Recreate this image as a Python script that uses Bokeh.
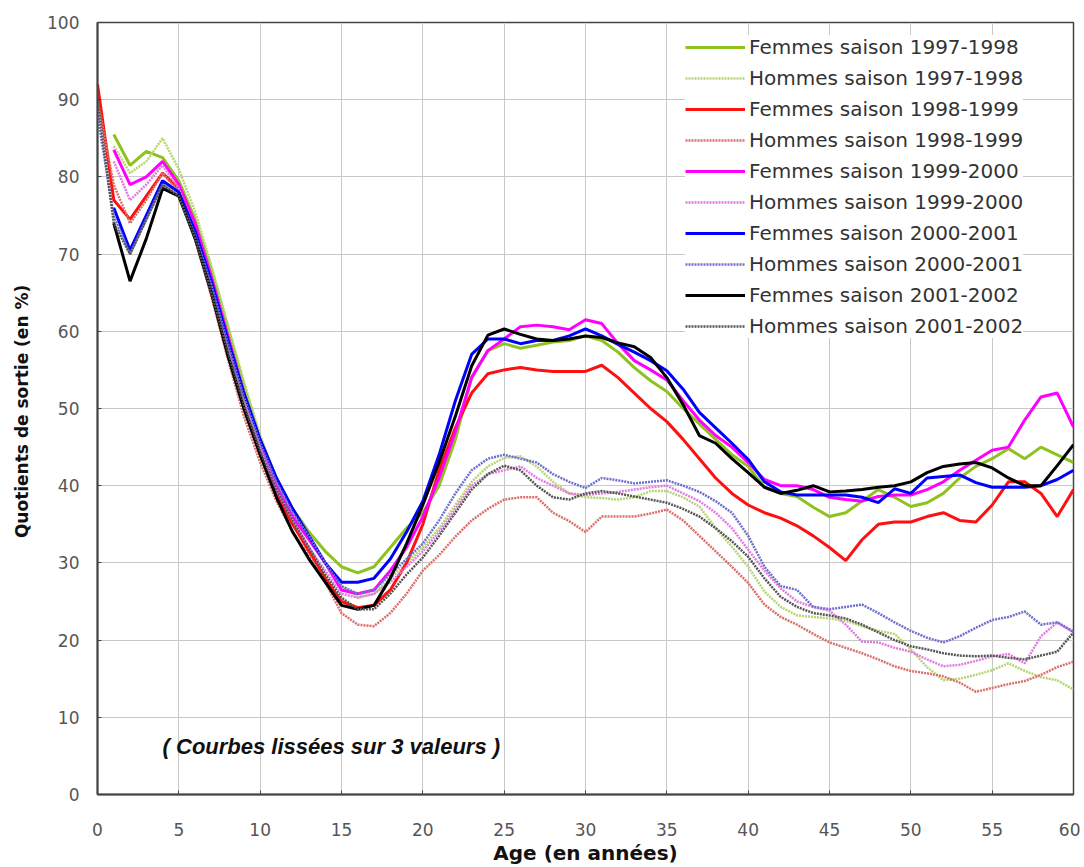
import math
from bokeh.plotting import figure
from bokeh.models import Range1d, FixedTicker, Legend, LegendItem, Label
from bokeh.embed import file_html
from bokeh.resources import INLINE

nan = float("nan")
ages = list(range(0, 61))

femmes_9798 = [nan, 85.5, 81.5, 83.3, 82.5, 79.5, 74.5, 68, 60.5, 53, 46, 41, 37, 34, 31.5, 29.5, 28.7, 29.5, 32, 34.5,
               36.5, 40, 46, 54, 57.5, 58.4, 57.8, 58.2, 58.6, 58.8, 59.4, 58.8, 57.3, 55.3, 53.6, 52.2, 50, 48, 46, 44,
               42.5, 39.8, 39, 38.6, 37.2, 36, 36.5, 38, 39.5, 38.5, 37.3, 37.8, 39, 41, 42.5, 43.5, 44.8, 43.5, 45, 44, 43]
hommes_9798 = [nan, 84, 80.5, 82, 85, 81, 75.5, 68.5, 61, 53.5, 46.5, 41, 37, 33.5, 30, 27, 25.5, 26, 28, 30,
               32, 34.5, 37.5, 40.5, 42.5, 43.6, 43.8, 42.5, 40.5, 39, 38.5, 38.4, 38.2, 38.5, 39.3, 39.3, 38.5, 37.3, 34.5, 32.1,
               29.5, 26.3, 24.3, 23.2, 23, 22.8, 22.5, 21.8, 21.2, 20.8, 18.8, 16.5, 14.8, 15, 15.5, 16.1, 17, 16, 15.2, 14.8, 13.6]
femmes_9899 = [92, 77, 74.5, 77.5, 80.5, 78.5, 72.5, 65, 57, 50, 44, 39, 35, 31.5, 28, 25, 24.2, 24.5, 26.5, 30,
               35, 42, 47.5, 52, 54.5, 55, 55.3, 55, 54.8, 54.8, 54.8, 55.6, 54, 52, 50, 48.3, 46, 43.5, 41, 39,
               37.5, 36.5, 35.8, 34.8, 33.5, 32, 30.3, 33, 35, 35.3, 35.3, 36, 36.5, 35.5, 35.3, 37.5, 40.5, 40.5, 39, 36, 39.5]
hommes_9899 = [90, 79, 74, 77, 80.5, 78, 72, 64.5, 56.5, 49, 43, 38, 34, 31, 27.5, 23.5, 22, 21.8, 23.5, 26,
               29, 31, 33.4, 35.5, 37, 38.2, 38.5, 38.5, 36.5, 35.4, 34, 36, 36, 36, 36.4, 36.9, 35.5, 33.5, 31.5, 29.5,
               27.4, 24.6, 23, 22, 20.8, 19.7, 19, 18.3, 17.5, 16.6, 16, 15.7, 15.3, 14.5, 13.3, 13.8, 14.3, 14.7, 15.5, 16.5, 17.2]
femmes_9900 = [nan, 83.5, 79, 80, 82, 79, 74, 67, 59.5, 52, 45.5, 40, 36, 33, 30, 26.5, 26, 26.5, 29, 32,
               36, 41, 47, 54, 57.5, 59, 60.6, 60.8, 60.6, 60.2, 61.5, 61, 58.4, 56.2, 55, 53.7, 51, 48.5, 46.5, 45,
               43, 40.8, 40, 40, 39.5, 38.5, 38.2, 38, 38.6, 38.8, 38.8, 39.5, 40.5, 42, 43.3, 44.6, 45, 48.5, 51.5, 52, 47.6]
hommes_9900 = [nan, 82, 77, 79, 81.5, 78.5, 73, 66, 58.5, 51, 45, 39.5, 35.5, 32, 29, 26, 25.5, 26, 27.5, 29.5,
               31.5, 34, 37, 40, 41.5, 42, 42.5, 41, 40, 39, 38.8, 39, 39.2, 39.5, 39.8, 40, 39, 38, 36.5, 34.5,
               31.7, 29, 26.7, 25, 24.3, 23.8, 22, 19.8, 19.7, 19, 18.5, 17.5, 16.6, 16.8, 17.3, 17.9, 18.2, 17, 20.5, 22.3, 21]
femmes_0001 = [nan, 76, 70.5, 75, 79.5, 78, 73, 66.5, 59, 52, 46, 41, 37, 33.5, 30, 27.5, 27.5, 28, 30.5, 34,
               38, 44, 51, 57, 59, 59, 58.4, 58.8, 58.8, 59.4, 60.3, 59.4, 58.3, 57.3, 56.2, 54.9, 52.5, 49.5, 47.5, 45.5,
               43.4, 40.5, 39.2, 38.8, 38.8, 38.8, 38.8, 38.5, 37.8, 39.6, 39, 41, 41.2, 41.4, 40.4, 39.8, 39.8, 39.8, 40, 40.8, 42]
hommes_0001 = [88, 75, 70, 74.5, 79, 77.5, 72.5, 66, 58.5, 51.5, 45.5, 40.5, 36.5, 33.5, 30, 27, 26, 26.5, 28.5, 30.5,
               32.5, 35.5, 39, 42, 43.5, 44, 43.5, 43, 41.5, 40.5, 39.7, 41, 40.7, 40.3, 40.5, 40.7, 40, 39.2, 38, 36.5,
               33.5, 29.5, 27, 26.5, 24.3, 24, 24.3, 24.6, 23.5, 22.3, 21.2, 20.3, 19.7, 20.5, 21.6, 22.6, 23, 23.7, 22, 22.3, 21.1]
femmes_0102 = [nan, 74, 66.5, 72, 78.5, 77.5, 72, 65, 57, 50, 44, 38.5, 34, 30.5, 27.5, 24.5, 24, 24.5, 28, 32.5,
               37.5, 43, 49, 55.5, 59.5, 60.3, 59.6, 59, 58.8, 59, 59.4, 59.2, 58.5, 58, 56.6, 54, 50.5, 46.5, 45.5, 43.5,
               41.7, 39.8, 39, 39.4, 40, 39.2, 39.3, 39.5, 39.8, 40, 40.5, 41.7, 42.5, 42.8, 43, 42.3, 41, 40, 40, 42.6, 45.3]
hommes_0102 = [90, 74, 70, 74.5, 79, 77.5, 72, 65, 57.5, 50.5, 44.5, 39.5, 35.5, 32, 28.5, 25.5, 24, 24, 26, 28.5,
               30.7, 33.5, 36.5, 39.5, 41.5, 42.6, 42, 40, 38.5, 38.2, 39, 39.3, 39, 38.6, 38.2, 37.8, 37, 36, 34.5, 32.8,
               30.8, 28, 25.6, 24.3, 23.5, 23.2, 22.8, 22, 21, 20, 19.2, 18.8, 18.3, 18, 17.9, 18, 17.7, 17.5, 18, 18.5, 21]

labels = ["Femmes saison 1997-1998", "Hommes saison 1997-1998",
          "Femmes saison 1998-1999", "Hommes saison 1998-1999",
          "Femmes saison 1999-2000", "Hommes saison 1999-2000",
          "Femmes saison 2000-2001", "Hommes saison 2000-2001",
          "Femmes saison 2001-2002", "Hommes saison 2001-2002"]
series = [femmes_9798, hommes_9798, femmes_9899, hommes_9899, femmes_9900,
          hommes_9900, femmes_0001, hommes_0001, femmes_0102, hommes_0102]
colors = ["#8DC21F", "#B5D670", "#FF1010", "#D9706A", "#FF00FF",
          "#E27BE2", "#0000FF", "#6F6FD0", "#000000", "#555555"]

x_ticks = list(range(0, 61, 5))
y_ticks = list(range(0, 101, 10))

p = figure(width=1080, height=867, output_backend="svg", toolbar_location=None,
           x_range=Range1d(0, 60), y_range=Range1d(0, 100),
           min_border_left=97, min_border_right=7, min_border_top=22, min_border_bottom=60)
p.background_fill_color = "white"
p.border_fill_color = "white"
p.outline_line_color = "#444444"
p.outline_line_width = 1.5

for ax in (p.xaxis[0], p.yaxis[0]):
    ax.axis_line_color = "#444444"
    ax.axis_line_width = 2
    ax.major_tick_in = 4
    ax.major_tick_out = 0
    ax.minor_tick_in = 0
    ax.minor_tick_out = 0
    ax.major_tick_line_color = "#444444"
    ax.major_label_text_font = "DejaVu Sans"
    ax.major_label_text_font_size = "17px"
    ax.major_label_text_color = "#555555"
    ax.axis_label_text_font = "DejaVu Sans"
    ax.axis_label_text_font_style = "bold"
    ax.axis_label_text_color = "#111111"

p.xaxis.ticker = FixedTicker(ticks=x_ticks)
p.yaxis.ticker = FixedTicker(ticks=y_ticks)
p.xaxis.axis_label = "Age (en années)"
p.yaxis.axis_label = "Quotients de sortie  (en %)"
p.xaxis.axis_label_text_font_size = "20px"
p.yaxis.axis_label_text_font_size = "17px"
p.xaxis.major_label_standoff = 28
p.yaxis.major_label_standoff = 18
p.xaxis.axis_label_standoff = 2
p.yaxis.axis_label_standoff = 12

p.xgrid.ticker = FixedTicker(ticks=x_ticks)
p.ygrid.ticker = FixedTicker(ticks=y_ticks)
for g in (p.xgrid[0], p.ygrid[0]):
    g.grid_line_color = "#C8C8C8"
    g.grid_line_width = 1

items = []
for lab, ys, col in zip(labels, series, colors):
    if lab.startswith("Femmes"):
        r = p.line(ages, ys, line_color=col, line_width=3)
    else:
        r = p.line(ages, ys, line_color=col, line_width=2.5, line_dash="2 1")
    items.append(LegendItem(label=lab, renderers=[r]))

legend = Legend(items=items, location=(588, 456))
legend.border_line_color = None
legend.background_fill_color = "white"
legend.background_fill_alpha = 1
legend.label_text_font = "DejaVu Sans"
legend.label_text_font_size = "20px"
legend.label_text_color = "#333333"
legend.glyph_width = 60
legend.glyph_height = 20
legend.label_height = 20
legend.spacing = 7
legend.padding = 5
legend.margin = 0
legend.label_standoff = 4
p.add_layout(legend, "center")

note = Label(x=4.0, y=6.2, text="( Courbes lissées sur 3 valeurs )",
             text_font="Liberation Sans", text_font_size="22px",
             text_font_style="bold italic", text_color="#111111",
             text_baseline="middle", text_align="left")
p.add_layout(note)

open("out.html", "w").write(file_html(p, INLINE))
